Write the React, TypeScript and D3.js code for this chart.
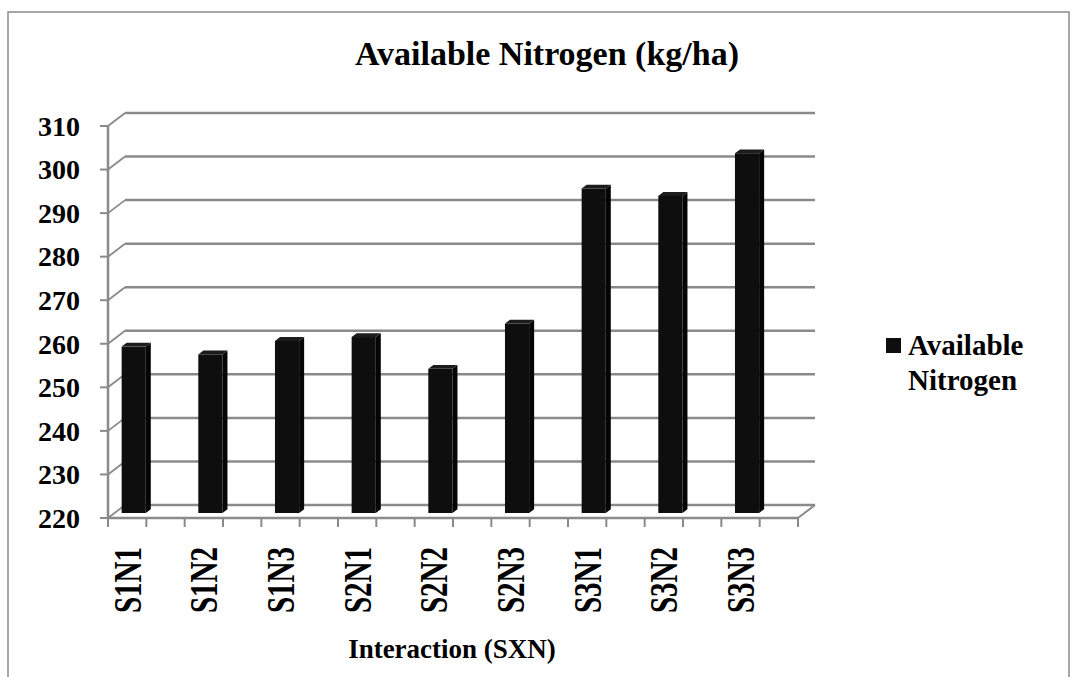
import React from "react";
import * as d3 from "d3";

const categories = ["S1N1", "S1N2", "S1N3", "S2N1", "S2N2", "S2N3", "S3N1", "S3N2", "S3N3"];
const values = [258.2, 256.4, 259.5, 260.4, 253.1, 263.5, 294.5, 292.8, 302.6];
const yTicks = [220, 230, 240, 250, 260, 270, 280, 290, 300, 310];
const seriesName = ["Available", "Nitrogen"];
const title = "Available Nitrogen (kg/ha)";
const xTitle = "Interaction (SXN)";

const W = 1074;
const H = 677;
const X0 = 108;
const X1 = 798;
const DX = 17;
const DY = -13;
const FONT = "Liberation Serif, DejaVu Serif, serif";
const GRID = "#8a8a8a";

export default function App() {
  const y = d3.scaleLinear().domain([220, 310]).range([518, 126]);
  const x = d3.scaleBand<string>().domain(categories).range([X0, X1]).padding(0);
  const half = x.bandwidth() / 2;

  const d1 = 0.385;
  const d2 = 0.68;
  const fdx = DX * d1, fdy = DY * d1;
  const bdx = DX * d2, bdy = DY * d2;
  const barW = half * 0.63;

  const tickXs: number[] = [];
  categories.forEach((c) => {
    tickXs.push(x(c)!);
    tickXs.push(x(c)! + half);
  });
  tickXs.push(X1);

  const pts = (arr: [number, number][]) => arr.map((p) => p.join(",")).join(" ");
  const tStyle = { fontFamily: FONT, fontWeight: 700 } as React.CSSProperties;

  return (
    <svg width={W} height={H} style={{ position: "absolute", left: 0, top: 0, background: "#fff" }}>
      <rect x={8} y={12} width={1061} height={700} fill="#fff" stroke="#8a8a8a" strokeWidth={1.5} />
      <text x={547} y={65} textAnchor="middle" style={{ ...tStyle, fontSize: 34 }}>
        {title}
      </text>

      {yTicks.map((t) => (
        <g key={"g" + t}>
          <line x1={X0 + DX} x2={X1 + DX} y1={y(t) + DY} y2={y(t) + DY} stroke={GRID} strokeWidth={2.5} />
          <line x1={X0} x2={X0 + DX} y1={y(t)} y2={y(t) + DY} stroke={GRID} strokeWidth={1.8} />
          <line x1={X0 - 8} x2={X0} y1={y(t)} y2={y(t)} stroke={GRID} strokeWidth={2} />
        </g>
      ))}
      <line x1={X0} x2={X1} y1={y(220)} y2={y(220)} stroke={GRID} strokeWidth={2.5} />
      <line x1={X1} x2={X1 + DX} y1={y(220)} y2={y(220) + DY} stroke={GRID} strokeWidth={2} />
      <line x1={X0} x2={X0} y1={y(310)} y2={y(220)} stroke={GRID} strokeWidth={2.5} />
      {tickXs.map((tx, i) => (
        <line key={"t" + i} x1={tx} x2={tx} y1={y(220)} y2={y(220) + 9} stroke={GRID} strokeWidth={2} />
      ))}

      {categories.map((c, i) => {
        const cx = x(c)! + half / 2;
        const l = cx - barW / 2;
        const r = cx + barW / 2;
        const top = y(values[i]);
        const bot = y(220);
        return (
          <g key={c}>
            <polygon
              points={pts([
                [r + fdx, top + fdy],
                [r + bdx, top + bdy],
                [r + bdx, bot + bdy],
                [r + fdx, bot + fdy],
              ])}
              fill="#050505"
            />
            <polygon
              points={pts([
                [l + fdx, top + fdy],
                [l + bdx, top + bdy],
                [r + bdx, top + bdy],
                [r + fdx, top + fdy],
              ])}
              fill="#1c1c1c"
            />
            <rect x={l + fdx} y={top + fdy} width={barW} height={bot - top} fill="#0e0e0e" />
          </g>
        );
      })}

      {yTicks.map((t) => (
        <text key={"l" + t} x={80} y={y(t)} dy="0.35em" textAnchor="end" style={{ ...tStyle, fontSize: 28 }}>
          {t}
        </text>
      ))}

      {categories.map((c) => (
        <text
          key={"xl" + c}
          transform={`translate(${x(c)! + half / 2},547) rotate(-90) scale(1,1.4)`}
          dy="0.33em"
          textAnchor="end"
          style={{ ...tStyle, fontSize: 29 }}
        >
          {c}
        </text>
      ))}

      <text x={452} y={658} textAnchor="middle" style={{ ...tStyle, fontSize: 27 }}>
        {xTitle}
      </text>

      <rect x={886} y={338} width={15} height={15} fill="#0e0e0e" />
      <text x={908} y={355} style={{ ...tStyle, fontSize: 29 }}>
        {seriesName[0]}
      </text>
      <text x={908} y={390} style={{ ...tStyle, fontSize: 29 }}>
        {seriesName[1]}
      </text>
    </svg>
  );
}
